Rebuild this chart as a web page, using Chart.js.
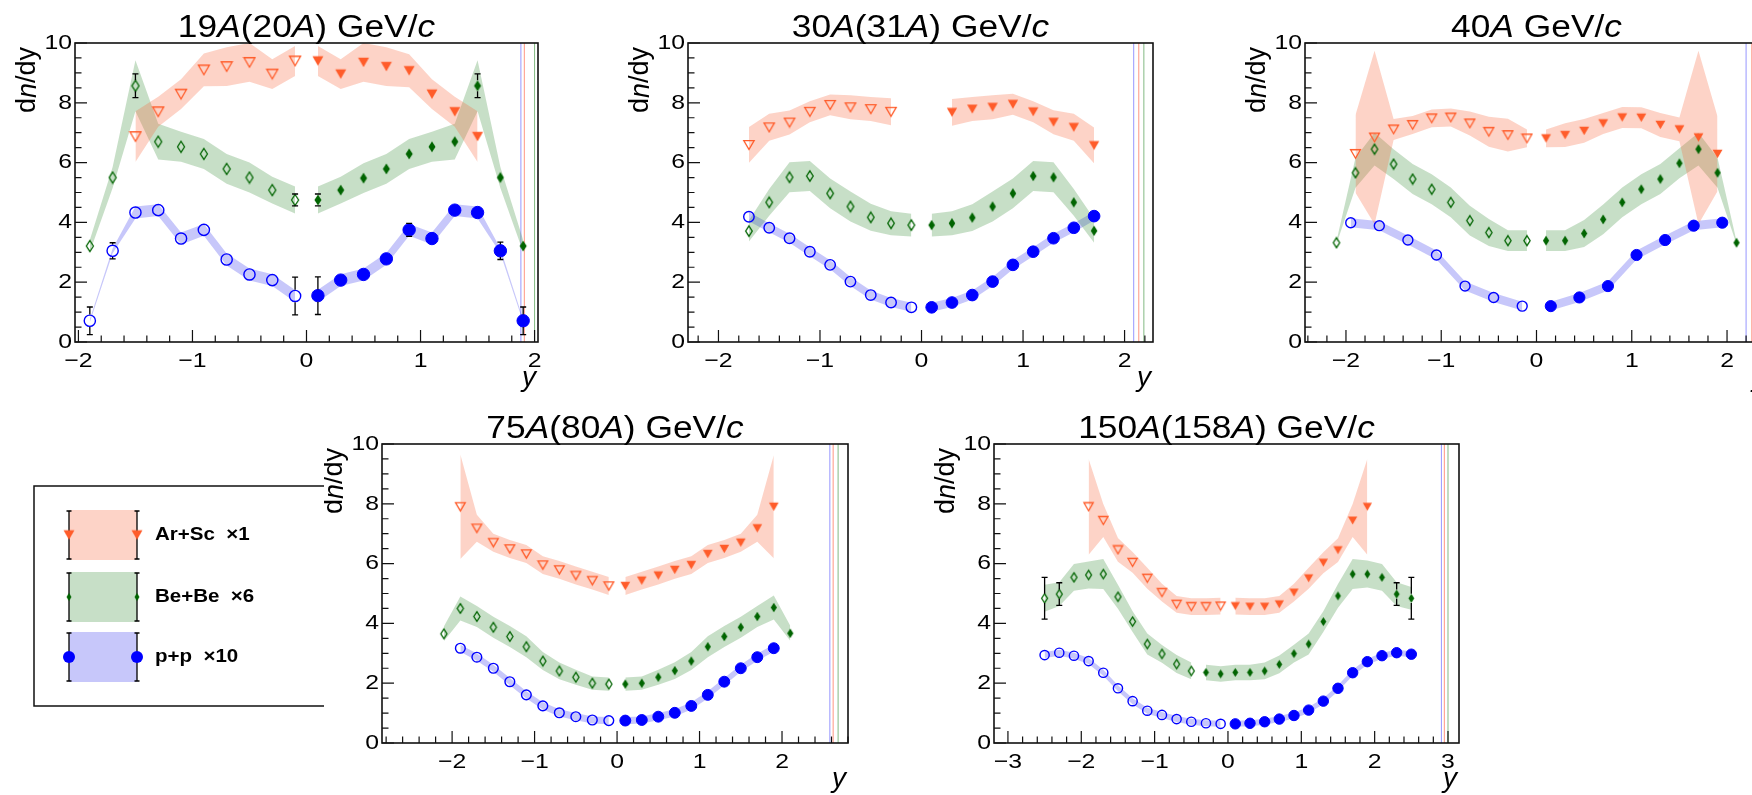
<!DOCTYPE html>
<html>
<head>
<meta charset="utf-8">
<script src="https://cdn.jsdelivr.net/npm/chart.js@4.4.1/dist/chart.umd.min.js"></script>
<style>
html, body { margin: 0; padding: 0; background: #fff; width: 1752px; height: 795px; overflow: hidden; }
canvas { position: absolute; }
</style>
</head>
<body>
<script>
// ---- data (dn/dy vs rapidity y) ----

// 19A(20A) GeV/c
const x19 = [-1.9,-1.7,-1.5,-1.3,-1.1,-0.9,-0.7,-0.5,-0.3,-0.1,0.1,0.3,0.5,0.7,0.9,1.1,1.3,1.5,1.7,1.9];
const pp19 = [0.71,3.05,4.33,4.41,3.46,3.75,2.76,2.26,2.07,1.54,1.55,2.07,2.26,2.78,3.75,3.46,4.41,4.33,3.05,0.71];
const ppSys19 = [0.05,0.08,0.2,0.2,0.2,0.2,0.2,0.2,0.2,0.2,0.2,0.2,0.2,0.2,0.2,0.2,0.2,0.2,0.08,0.05];
const ppStat19 = [0.46,0.27,0.15,0.08,0.08,0.2,0.08,0.08,0.1,0.63,0.63,0.1,0.08,0.08,0.22,0.08,0.08,0.18,0.29,0.46];
const be19 = [3.21,5.50,8.57,6.70,6.53,6.29,5.79,5.50,5.08,4.75,4.75,5.08,5.48,5.79,6.29,6.53,6.70,8.57,5.50,3.21];
const beSys19 = [0.2,0.35,0.85,0.6,0.5,0.5,0.5,0.5,0.45,0.45,0.45,0.45,0.5,0.5,0.5,0.5,0.6,0.85,0.35,0.2];
const beStat19 = [0.12,0.05,0.4,0.05,0.05,0.05,0.05,0.05,0.05,0.2,0.2,0.05,0.05,0.05,0.05,0.05,0.05,0.4,0.05,0.18];
const xA19 = [-1.5,-1.3,-1.1,-0.9,-0.7,-0.5,-0.3,-0.1,0.1,0.3,0.5,0.7,0.9,1.1,1.3,1.5];
const ar19 = [6.87,7.70,8.29,9.10,9.21,9.35,8.96,9.40,9.40,8.96,9.35,9.21,9.07,8.29,7.70,6.87];
const arSys19 = [0.85,0.5,0.5,0.55,0.65,0.65,0.5,0.5,0.5,0.5,0.65,0.65,0.55,0.5,0.5,0.85];
const beam19 = [1.88, 1.91, 2.0];

// 30A(31A) GeV/c
const x30 = [-1.7,-1.5,-1.3,-1.1,-0.9,-0.7,-0.5,-0.3,-0.1,0.1,0.3,0.5,0.7,0.9,1.1,1.3,1.5,1.7];
const pp30 = [4.19,3.82,3.47,3.02,2.58,2.02,1.57,1.32,1.16,1.16,1.32,1.57,2.02,2.58,3.02,3.47,3.82,4.21];
const ppSys30 = [0.15,0.15,0.15,0.15,0.15,0.15,0.15,0.15,0.15,0.15,0.15,0.15,0.15,0.15,0.15,0.15,0.15,0.15];
const be30 = [3.71,4.67,5.51,5.55,4.97,4.53,4.17,3.97,3.91,3.91,3.97,4.16,4.53,4.97,5.55,5.51,4.67,3.72];
const beSys30 = [0.35,0.45,0.5,0.5,0.5,0.5,0.45,0.4,0.38,0.38,0.4,0.45,0.5,0.5,0.5,0.5,0.45,0.4];
const xA30 = [-1.7,-1.5,-1.3,-1.1,-0.9,-0.7,-0.5,-0.3,0.3,0.5,0.7,0.9,1.1,1.3,1.5,1.7];
const ar30 = [6.59,7.18,7.34,7.70,7.93,7.85,7.79,7.70,7.68,7.79,7.85,7.95,7.70,7.35,7.18,6.57];
const arSys30 = [0.6,0.45,0.4,0.35,0.35,0.4,0.4,0.45,0.45,0.4,0.4,0.35,0.35,0.4,0.45,0.6];
const beam30 = [2.09, 2.14, 2.19];

// 40A GeV/c
const xP40 = [-1.95,-1.65,-1.35,-1.05,-0.75,-0.45,-0.15,0.15,0.45,0.75,1.05,1.35,1.65,1.95];
const pp40 = [3.99,3.89,3.41,2.91,1.87,1.49,1.20,1.20,1.49,1.87,2.91,3.41,3.89,3.99];
const ppSys40 = [0.15,0.15,0.15,0.15,0.15,0.15,0.15,0.15,0.15,0.15,0.15,0.15,0.15,0.15];
const x40 = [-2.1,-1.9,-1.7,-1.5,-1.3,-1.1,-0.9,-0.7,-0.5,-0.3,-0.1,0.1,0.3,0.5,0.7,0.9,1.1,1.3,1.5,1.7,1.9,2.1];
const be40 = [3.32,5.66,6.45,5.95,5.45,5.11,4.67,4.06,3.66,3.39,3.39,3.39,3.39,3.63,4.10,4.67,5.11,5.45,5.98,6.45,5.66,3.32];
const beSys40 = [0.05,0.5,0.55,0.5,0.5,0.5,0.5,0.5,0.45,0.35,0.35,0.35,0.35,0.45,0.5,0.5,0.5,0.5,0.5,0.55,0.5,0.05];
const xA40 = [-1.9,-1.7,-1.5,-1.3,-1.1,-0.9,-0.7,-0.5,-0.3,-0.1,0.1,0.3,0.5,0.7,0.9,1.1,1.3,1.5,1.7,1.9];
const ar40 = [6.29,6.84,7.11,7.26,7.48,7.51,7.31,7.03,6.92,6.81,6.81,6.92,7.06,7.31,7.51,7.50,7.26,7.11,6.84,6.29];
const arSys40 = [1.3,2.9,0.35,0.3,0.3,0.3,0.4,0.5,0.55,0.3,0.3,0.4,0.4,0.35,0.35,0.35,0.4,0.4,2.9,1.25];
const beam40 = [2.2, 2.26, 2.31];

// 75A(80A) GeV/c
const xP75 = [-1.9,-1.7,-1.5,-1.3,-1.1,-0.9,-0.7,-0.5,-0.3,-0.1,0.1,0.3,0.5,0.7,0.9,1.1,1.3,1.5,1.7,1.9];
const pp75 = [3.17,2.87,2.50,2.05,1.61,1.24,1.01,0.88,0.77,0.75,0.75,0.77,0.88,1.01,1.24,1.61,2.05,2.50,2.87,3.17];
const ppSys75 = [0.12,0.12,0.12,0.12,0.12,0.12,0.12,0.12,0.12,0.12,0.12,0.12,0.12,0.12,0.12,0.12,0.12,0.12,0.12,0.12];
const x75 = [-2.1,-1.9,-1.7,-1.5,-1.3,-1.1,-0.9,-0.7,-0.5,-0.3,-0.1,0.1,0.3,0.5,0.7,0.9,1.1,1.3,1.5,1.7,1.9,2.1];
const be75 = [3.65,4.50,4.23,3.87,3.56,3.22,2.74,2.41,2.20,2.00,1.97,1.97,2.00,2.20,2.42,2.74,3.22,3.56,3.87,4.23,4.53,3.67];
const beSys75 = [0.25,0.4,0.35,0.35,0.35,0.35,0.3,0.28,0.25,0.22,0.22,0.22,0.22,0.25,0.28,0.3,0.35,0.35,0.35,0.35,0.4,0.25];
const ar75 = [7.90,7.18,6.70,6.49,6.32,5.95,5.79,5.60,5.43,5.25,5.25,5.43,5.60,5.79,5.95,6.32,6.49,6.70,7.18,7.90];
const arSys75 = [1.75,0.45,0.3,0.3,0.3,0.3,0.3,0.3,0.3,0.3,0.3,0.3,0.3,0.3,0.3,0.3,0.3,0.3,0.45,1.72];
const beam75 = [2.58, 2.62, 2.68];

// 150A(158A) GeV/c
const x150 = [-2.5,-2.3,-2.1,-1.9,-1.7,-1.5,-1.3,-1.1,-0.9,-0.7,-0.5,-0.3,-0.1,0.1,0.3,0.5,0.7,0.9,1.1,1.3,1.5,1.7,1.9,2.1,2.3,2.5];
const pp150 = [2.94,3.02,2.92,2.74,2.35,1.83,1.40,1.08,0.94,0.80,0.71,0.66,0.64,0.64,0.66,0.71,0.80,0.92,1.10,1.40,1.83,2.35,2.72,2.92,3.02,2.97];
const ppSys150 = [0.1,0.1,0.1,0.1,0.1,0.1,0.1,0.1,0.1,0.1,0.1,0.1,0.1,0.1,0.1,0.1,0.1,0.1,0.1,0.1,0.1,0.1,0.1,0.1,0.1,0.1];
const ppStat150 = [0.15,0,0,0,0,0,0,0,0,0,0,0,0,0,0,0,0,0,0,0,0,0,0,0,0,0.15];
const be150 = [4.84,4.98,5.54,5.62,5.65,4.89,4.06,3.31,2.98,2.64,2.41,2.36,2.31,2.36,2.36,2.41,2.63,2.99,3.31,4.06,4.92,5.65,5.65,5.54,4.98,4.84];
const beSys150 = [0.45,0.4,0.45,0.45,0.5,0.4,0.35,0.35,0.3,0.3,0.28,0.26,0.26,0.26,0.26,0.28,0.3,0.3,0.35,0.35,0.4,0.5,0.45,0.45,0.4,0.38];
const beStat150 = [0.7,0.38,0,0,0,0,0,0,0,0,0,0,0,0,0,0,0,0,0,0,0,0,0,0,0.38,0.7];
const xA150 = [-1.9,-1.7,-1.5,-1.3,-1.1,-0.9,-0.7,-0.5,-0.3,-0.1,0.1,0.3,0.5,0.7,0.9,1.1,1.3,1.5,1.7,1.9];
const ar150 = [7.90,7.44,6.46,6.04,5.51,5.03,4.64,4.56,4.56,4.58,4.58,4.56,4.56,4.64,5.03,5.51,6.03,6.45,7.44,7.90];
const arSys150 = [1.6,0.55,0.4,0.35,0.35,0.3,0.28,0.28,0.28,0.28,0.28,0.28,0.28,0.28,0.3,0.35,0.35,0.4,0.55,1.6];
const beam150 = [2.91, 2.95, 3.0];

const legendLabels = ['Ar+Sc  \u00d71', 'Be+Be  \u00d76', 'p+p  \u00d710'];

// ---- styles ----
const FONT = '"Liberation Sans", Arial, sans-serif';
const AR_COLOR = 'rgb(255,92,42)', AR_BAND = 'rgba(248,110,70,0.3)';
const BE_COLOR = 'rgb(0,100,0)', BE_BAND = 'rgba(40,130,40,0.26)';
const PP_COLOR = 'rgb(0,0,255)', PP_BAND = 'rgba(40,40,235,0.26)';
const BEAM_COLORS = ['rgb(150,150,255)', 'rgb(255,150,130)', 'rgb(130,185,130)'];

function drawParts(ctx, parts, x, y, size, align, sx, weight) {
  ctx.save();
  ctx.translate(x, y);
  ctx.scale(sx, 1);
  ctx.textAlign = 'left';
  const fonts = parts.map(p => (p[1] ? 'italic ' : '') + (weight || 'normal') + ' ' + size + 'px ' + FONT);
  let total = 0;
  const widths = parts.map((p, i) => { ctx.font = fonts[i]; const w = ctx.measureText(p[0]).width; total += w; return w; });
  let cx = align === 'center' ? -total / 2 : (align === 'right' ? -total : 0);
  parts.forEach((p, i) => { ctx.font = fonts[i]; ctx.fillText(p[0], cx, 0); cx += widths[i]; });
  ctx.restore();
}

function markerCanvas(kind, color, filled, w, h) {
  const c = document.createElement('canvas');
  c.width = Math.ceil(w) + 3; c.height = Math.ceil(h) + 3;
  const g = c.getContext('2d');
  const cx = c.width / 2, cy = c.height / 2;
  g.beginPath();
  if (kind === 'tri') {
    g.moveTo(cx - w / 2, cy - h / 2); g.lineTo(cx + w / 2, cy - h / 2); g.lineTo(cx, cy + h / 2);
  } else {
    g.moveTo(cx, cy - h / 2); g.lineTo(cx + w / 2, cy); g.lineTo(cx, cy + h / 2); g.lineTo(cx - w / 2, cy);
  }
  g.closePath();
  if (filled) { g.fillStyle = color; g.fill(); }
  else { g.strokeStyle = color; g.lineWidth = 1.3; g.stroke(); }
  return c;
}

const fmt = v => (v < 0 ? '\u2212' + (-v) : String(v));

function speciesSets(xs, ys, sys, stat, split, band, openM, fillM) {
  const L = [], R = [];
  xs.forEach((v, i) => (v < split ? L : R).push(i));
  const out = [];
  [L, R].forEach(idx => {
    out.push({ data: idx.map(i => ({ x: xs[i], y: ys[i] + sys[i] })), fill: '+1', backgroundColor: band,
      borderColor: 'rgba(0,0,0,0)', borderWidth: 0, pointRadius: 0, tension: 0, order: 5 });
    out.push({ data: idx.map(i => ({ x: xs[i], y: ys[i] - sys[i] })), fill: false,
      borderColor: 'rgba(0,0,0,0)', borderWidth: 0, pointRadius: 0, tension: 0, order: 5 });
  });
  [[L, openM], [R, fillM]].forEach(([idx, m]) => {
    out.push(Object.assign({
      data: idx.map(i => ({ x: xs[i], y: ys[i] })), showLine: false, order: 0,
      errY: stat ? idx.map(i => stat[i]) : null
    }, m));
  });
  return out;
}

function padPlugin(p) {
  return {
    id: 'rootPad',
    afterDatasetsDraw(chart) {
      const ctx = chart.ctx, a = chart.chartArea, xs = chart.scales.x, ys = chart.scales.y;
      ctx.save();
      // statistical error bars
      ctx.strokeStyle = '#000'; ctx.lineWidth = 1.3;
      chart.data.datasets.forEach((ds, i) => {
        if (!ds.errY) return;
        const meta = chart.getDatasetMeta(i);
        meta.data.forEach((el, j) => {
          const e = ds.errY[j];
          if (!e) return;
          const v = ds.data[j].y;
          const yT = ys.getPixelForValue(v + e), yB = ys.getPixelForValue(v - e);
          const g = ds.gap;
          if (el.y - yT <= g) return;
          ctx.beginPath();
          ctx.moveTo(el.x, yT); ctx.lineTo(el.x, el.y - g);
          ctx.moveTo(el.x, el.y + g); ctx.lineTo(el.x, yB);
          ctx.moveTo(el.x - 3, yT); ctx.lineTo(el.x + 3, yT);
          ctx.moveTo(el.x - 3, yB); ctx.lineTo(el.x + 3, yB);
          ctx.stroke();
        });
      });
      // frame
      ctx.strokeStyle = '#111'; ctx.lineWidth = 1.6;
      ctx.strokeRect(a.left, a.top, a.right - a.left, a.bottom - a.top);
      // ticks
      ctx.lineWidth = 1.2; ctx.beginPath();
      for (let k = Math.ceil(xs.min / 0.2 - 1e-6); k * 0.2 <= xs.max + 1e-6; k++) {
        const v = k * 0.2, major = Math.abs(v - Math.round(v)) < 1e-6, px = xs.getPixelForValue(v);
        ctx.moveTo(px, a.bottom); ctx.lineTo(px, a.bottom - (major ? 12 : 6.5));
      }
      for (let k = 0; k <= 20; k++) {
        const py = ys.getPixelForValue(k * 0.5);
        ctx.moveTo(a.left, py); ctx.lineTo(a.left + (k % 4 === 0 ? 12 : 6.5), py);
      }
      ctx.stroke();
      // tick labels
      ctx.fillStyle = '#000';
      ctx.textBaseline = 'middle';
      for (let v = Math.ceil(xs.min); v <= Math.floor(xs.max); v++) {
        drawParts(ctx, [[fmt(v), 0]], xs.getPixelForValue(v), a.bottom + 19, 21, 'center', 1.18);
      }
      for (let v = 0; v <= 10; v += 2) {
        drawParts(ctx, [[String(v), 0]], a.left - 3, ys.getPixelForValue(v), 21, 'right', 1.18);
      }
      // titles
      ctx.textBaseline = 'alphabetic';
      drawParts(ctx, p.title, (a.left + a.right) / 2, a.top - 6, 31, 'center', 1.14);
      drawParts(ctx, [['y', 1]], a.right - 2, a.bottom + 44, 28, 'right', 1);
      ctx.save();
      ctx.translate(a.left - 47, a.top + 4);
      ctx.rotate(-Math.PI / 2);
      ctx.textBaseline = 'middle';
      drawParts(ctx, [['d', 0], ['n', 1], ['/dy', 0]], 0, 0, 27, 'right', 1);
      ctx.restore();
      ctx.restore();
    }
  };
}

const panels = [
  { left: 0, top: 0, w: 585, h: 395, frame: [75, 43, 538, 342], xr: [-2.03, 2.03], s: 1,
    title: [['19', 0], ['A', 1], ['(20', 0], ['A', 1], [') GeV/', 0], ['c', 1]],
    pp: [x19, pp19, ppSys19, ppStat19, 0], be: [x19, be19, beSys19, beStat19, 0], ar: [xA19, ar19, arSys19, null, 0], beam: beam19 },
  { left: 585, top: 0, w: 585, h: 395, frame: [688, 43, 1153, 342], xr: [-2.3, 2.28], s: 0.94,
    title: [['30', 0], ['A', 1], ['(31', 0], ['A', 1], [') GeV/', 0], ['c', 1]],
    pp: [x30, pp30, ppSys30, null, 0], be: [x30, be30, beSys30, null, 0], ar: [xA30, ar30, arSys30, null, 0], beam: beam30 },
  { left: 1170, top: 0, w: 640, h: 395, frame: [1305, 43, 1768, 342], xr: [-2.43, 2.43], s: 0.9,
    title: [['40', 0], ['A', 1], [' GeV/', 0], ['c', 1]],
    pp: [xP40, pp40, ppSys40, null, 0], be: [x40, be40, beSys40, null, 0], ar: [xA40, ar40, arSys40, null, 0], beam: beam40 },
  { left: 324, top: 395, w: 556, h: 400, frame: [382, 444, 848, 743], xr: [-2.85, 2.8], s: 0.88,
    title: [['75', 0], ['A', 1], ['(80', 0], ['A', 1], [') GeV/', 0], ['c', 1]],
    pp: [xP75, pp75, ppSys75, null, 0], be: [x75, be75, beSys75, null, 0], ar: [xP75, ar75, arSys75, null, 0], beam: beam75 },
  { left: 880, top: 395, w: 600, h: 400, frame: [994, 444, 1459, 743], xr: [-3.19, 3.15], s: 0.84,
    title: [['150', 0], ['A', 1], ['(158', 0], ['A', 1], [') GeV/', 0], ['c', 1]],
    pp: [x150, pp150, ppSys150, ppStat150, 0], be: [x150, be150, beSys150, beStat150, -0.4], ar: [xA150, ar150, arSys150, null, 0], beam: beam150 }
];

panels.forEach(p => {
  const cv = document.createElement('canvas');
  cv.width = p.w; cv.height = p.h;
  cv.style.left = p.left + 'px'; cv.style.top = p.top + 'px';
  cv.style.width = p.w + 'px'; cv.style.height = p.h + 'px';
  document.body.appendChild(cv);

  const s = p.s, r = 6.2 * s;
  const triW = 11 * s, triH = 9.5 * s, diaW = 7 * s, diaH = 11 * s;
  const arM = [
    { pointStyle: markerCanvas('tri', AR_COLOR, false, triW, triH), pointRadius: 5, gap: triH / 2 },
    { pointStyle: markerCanvas('tri', AR_COLOR, true, triW, triH), pointRadius: 5, gap: triH / 2 }
  ];
  const beM = [
    { pointStyle: markerCanvas('dia', BE_COLOR, false, diaW, diaH), pointRadius: 5, gap: diaH / 2 },
    { pointStyle: markerCanvas('dia', BE_COLOR, true, diaW, diaH), pointRadius: 5, gap: diaH / 2 }
  ];
  const ppM = [
    { pointStyle: 'circle', pointRadius: r - 0.6, pointBackgroundColor: 'rgba(0,0,0,0)', pointBorderColor: PP_COLOR, pointBorderWidth: 1.4, gap: r },
    { pointStyle: 'circle', pointRadius: r, pointBackgroundColor: PP_COLOR, pointBorderColor: PP_COLOR, pointBorderWidth: 1, gap: r }
  ];

  const datasets = [];
  datasets.push(...speciesSets(p.ar[0], p.ar[1], p.ar[2], p.ar[3], p.ar[4], AR_BAND, arM[0], arM[1]));
  datasets.push(...speciesSets(p.be[0], p.be[1], p.be[2], p.be[3], p.be[4], BE_BAND, beM[0], beM[1]));
  datasets.push(...speciesSets(p.pp[0], p.pp[1], p.pp[2], p.pp[3], p.pp[4], PP_BAND, ppM[0], ppM[1]));
  p.beam.forEach((b, i) => {
    datasets.push({ data: [{ x: b, y: 0 }, { x: b, y: 10 }], borderColor: BEAM_COLORS[i], borderWidth: 1,
      pointRadius: 0, fill: false, order: 8 });
  });

  const [fl, ft, fr, fb] = p.frame;
  new Chart(cv, {
    type: 'line',
    data: { datasets },
    options: {
      responsive: false,
      animation: false,
      devicePixelRatio: 1,
      events: [],
      layout: { padding: { left: fl - p.left, top: ft - p.top, right: p.left + p.w - fr, bottom: p.top + p.h - fb } },
      scales: {
        x: { type: 'linear', min: p.xr[0], max: p.xr[1], display: false },
        y: { type: 'linear', min: 0, max: 10, display: false }
      },
      plugins: { legend: { display: false }, tooltip: { enabled: false } }
    },
    plugins: [padPlugin(p)]
  });
});

// legend box (its right side sits under the 75A pad)
(function drawLegend() {
  const oy = 440;
  const cv = document.createElement('canvas');
  cv.width = 326; cv.height = 300;
  cv.style.left = '0px'; cv.style.top = oy + 'px';
  document.body.insertBefore(cv, document.body.firstChild);
  const g = cv.getContext('2d');
  g.strokeStyle = '#111'; g.lineWidth = 1.5;
  g.beginPath();
  g.moveTo(324, 486 - oy); g.lineTo(34, 486 - oy); g.lineTo(34, 706 - oy); g.lineTo(324, 706 - oy);
  g.stroke();
  const rows = [
    { c: 535, band: AR_BAND, m: markerCanvas('tri', AR_COLOR, true, 11, 9.5) },
    { c: 597, band: BE_BAND, m: markerCanvas('dia', BE_COLOR, true, 5, 8) },
    { c: 657, band: PP_BAND, m: null }
  ];
  rows.forEach((row, i) => {
    const c = row.c - oy;
    g.fillStyle = row.band;
    g.fillRect(69, c - 25, 68, 50);
    g.strokeStyle = '#000'; g.lineWidth = 1.3;
    [69, 137].forEach(x => {
      g.beginPath();
      g.moveTo(x, c - 24); g.lineTo(x, c + 24);
      g.moveTo(x - 2.5, c - 24); g.lineTo(x + 2.5, c - 24);
      g.moveTo(x - 2.5, c + 24); g.lineTo(x + 2.5, c + 24);
      g.stroke();
      if (row.m) {
        g.drawImage(row.m, x - row.m.width / 2, c - row.m.height / 2);
      } else {
        g.fillStyle = PP_COLOR;
        g.beginPath(); g.arc(x, c, 6, 0, Math.PI * 2); g.fill();
      }
    });
    g.fillStyle = '#000';
    g.textBaseline = 'middle';
    drawParts(g, [[legendLabels[i], 0]], 155, c, 19, 'left', 1.08, 'bold');
  });
})();
</script>
</body>
</html>
